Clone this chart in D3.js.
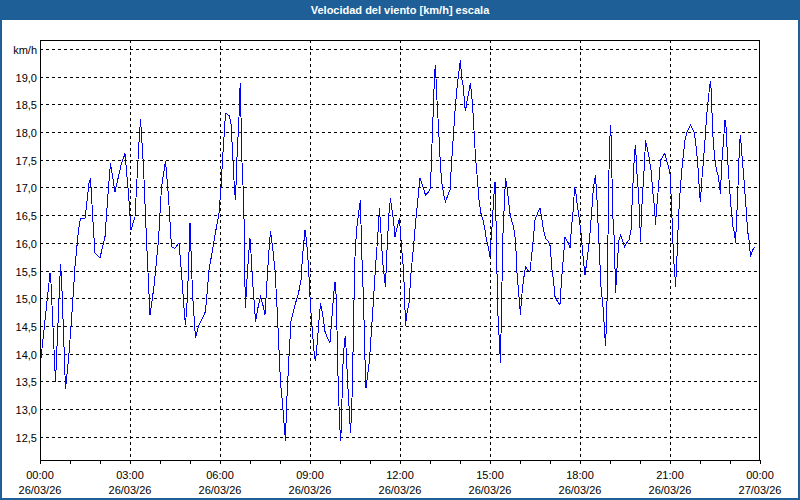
<!DOCTYPE html>
<html>
<head>
<meta charset="utf-8">
<script src="https://cdn.jsdelivr.net/npm/d3@7"></script>
<style>
html,body{margin:0;padding:0;background:#fff;}
svg{display:block;}
text{font-family:"Liberation Sans",Arial,sans-serif;}
</style>
</head>
<body>
<svg id="chart" width="800" height="500"></svg>
<script>
const title = "Velocidad del viento [km/h] escala";
const unitLabel = "km/h";
// minutes since 26/03/26 00:00
const minutes = [0,2,20,22,31,41,43,51,57,63,70,77,81,90,98,101,107,110,120,130,137,141,150,162,170,177,182,190,197,201,207,213,220,228,237,243,251,257,263,270,278,283,289,291,295,300,305,311,317,331,338,345,353,
358,362,365,368,371,379,382,385,389,391,394,398,399,401,403,407,409,410,411,413,417,420,422,425,429,431,435,441,445,450,453,457,461,465,470,474,478,481,485,488,491,493,498,502,510,517,522,525,530,533,537,541,545,549,551,555,558,561,565,570,575,580,583,587,590,593,595,598,601,603,605,609,611,615,618,621,623,625,627,630,633,638,641,643,647,650,652,655,659,663,667,671,675,679,682,685,689,691,693,695,698,701,703,707,710,
713,719,723,727,729,731,734,738,742,747,751,757,760,765,771,777,781,783,787,789,791,793,797,800,803,807,811,817,820,823,827,830,834,837,841,843,847,849,851,854,858,861,863,865,868,871,875,878,882,886,890,893,897,900,902,905,907,910,913,915,919,921,923,926,929,931,934,937,940,943,947,951,954,958,961,963,967,971,975,980,983,987,990,995,1000,1003,1007,1011,1017,1021,1023,1027,1030,1035,1040,1043,1047,1050,1053,1057,1060,1063,1067,1069,1072,1075,1079,
1082,1085,1087,1090,1095,1099,1102,1105,1107,1111,1114,1117,1119,1122,1126,1129,1131,1133,1135,1137,1139,1141,1143,1145,1149,1151,1153,1155,1158,1161,1165,1169,1173,1178,1182,1185,1187,1189,1191,1194,1197,1199,1201,1203,1206,1209,1211,1214,1218,1222,1226,1229,1231,1233,1237,1241,1245,1247,1250,1253,1257,1260,1262,1265,1267,1270,1271,1274,1277,1280,1283,1287,1290,1293,1297,1301,1305,1309,1313,1317,1319,1321,1323,1327,1330,1333,1337,1339,1341,1343,1345,1349,1353,1357,1359,1361,1363,1367,1370,1372,1375,1379,1382,1386,1389,1391,1394,1397,1399,1401,1403,1407,1410,1413,1415,1418,1421,1423,1427,1431];
const speed = [13.95,13.92,15.45,15.27,13.49,15.61,15.39,13.36,13.89,14.61,15.57,16.23,16.44,16.44,17.07,17.16,16.23,15.82,15.73,16.11,17.01,17.43,16.92,17.40,17.61,16.89,16.23,16.47,17.67,18.23,17.37,16.05,14.70,15.21,16.05,17.01,17.47,16.83,15.93,15.90,16.00,15.45,14.70,14.52,15.03,16.36,15.09,14.28,14.49,14.76,15.51,15.87,16.29,
16.53,17.01,17.49,17.91,18.34,18.29,18.15,17.67,16.95,16.77,17.55,18.26,18.68,18.89,17.67,16.83,16.05,15.21,14.82,15.21,15.75,16.08,15.81,15.33,14.85,14.58,14.79,15.03,14.91,14.70,15.15,15.75,16.21,15.93,15.51,14.85,14.07,13.47,13.11,12.75,12.42,13.05,13.95,14.58,14.88,15.09,15.33,15.75,16.23,16.05,15.57,14.85,14.37,13.95,13.86,14.25,14.61,14.91,14.73,14.40,14.28,14.20,14.55,15.03,15.30,14.97,13.89,13.05,12.42,12.69,13.65,14.25,14.31,13.53,13.05,12.57,12.93,13.47,14.55,15.75,16.23,16.59,16.77,15.93,14.97,13.89,13.38,13.59,13.89,14.43,14.97,15.57,16.05,16.62,16.17,15.69,15.36,15.21,15.69,16.05,16.53,16.81,16.65,16.41,16.11,
16.23,16.44,15.93,15.51,15.09,14.50,14.73,14.91,15.45,15.93,16.35,16.89,17.17,17.04,16.86,16.92,16.98,17.55,18.50,19.04,19.21,18.74,18.09,17.55,17.13,16.89,16.74,16.89,16.95,17.43,17.97,18.38,18.80,19.04,19.30,18.98,18.80,18.50,18.38,18.56,18.74,18.89,18.68,18.50,18.03,17.55,17.13,16.77,16.53,16.41,16.23,16.05,15.90,15.75,16.05,16.41,16.77,17.10,16.05,14.85,14.16,13.83,14.85,16.17,16.77,17.16,17.01,16.77,16.53,16.41,16.29,16.05,15.45,15.03,14.70,15.00,15.33,15.57,15.51,15.48,15.75,16.11,16.41,16.53,16.63,16.47,16.23,16.08,16.02,15.93,15.57,15.33,15.03,14.94,14.88,15.33,15.75,16.11,16.05,15.99,15.90,16.29,16.65,17.01,16.89,16.65,16.41,
16.17,15.87,15.66,15.42,15.75,16.05,16.41,16.77,17.01,17.22,16.77,16.17,15.81,15.21,14.85,14.43,14.13,14.55,15.33,16.89,17.73,18.12,17.79,16.59,15.99,15.09,15.39,15.69,16.05,16.14,16.05,15.93,15.99,16.05,16.23,16.89,17.25,17.61,17.77,17.25,16.89,16.53,16.02,16.53,17.01,17.43,17.85,17.73,17.55,17.31,16.89,16.65,16.32,16.59,17.01,17.49,17.55,17.58,17.61,17.49,17.37,17.25,16.89,16.23,15.75,15.39,15.20,15.75,16.47,16.89,17.25,17.61,17.85,17.97,18.06,18.12,18.06,17.97,17.67,17.25,16.89,16.74,17.07,17.49,17.85,18.26,18.62,18.80,18.91,18.68,18.03,17.55,17.31,17.19,17.01,16.89,17.37,17.85,18.21,18.09,17.55,17.01,16.65,16.29,16.17,15.99,16.59,17.25,17.79,17.94,17.67,17.25,16.89,16.53,16.23,16.05,15.75,15.81,15.90,15.93];
const yTicks = [12.5,13.0,13.5,14.0,14.5,15.0,15.5,16.0,16.5,17.0,17.5,18.0,18.5,19.0,19.5];
const hourTicks = [0,60,120,180,240,300,360,420,480,540,600,660,720,780,840,900,960,1020,1080,1140,1200,1260,1320,1380,1440];
const labelTicks = [0,180,360,540,720,900,1080,1260,1440];
const timeLabels = ["00:00","03:00","06:00","09:00","12:00","15:00","18:00","21:00","00:00"];
const dateLabels = ["26/03/26","26/03/26","26/03/26","26/03/26","26/03/26","26/03/26","26/03/26","26/03/26","27/03/26"];

const W = 800, H = 500;
const L = 40, R = 760, T = 40, B = 460;
const svg = d3.select("#chart");
const blue = "#1d5f96";

// frame
svg.append("rect").attr("x",0).attr("y",0).attr("width",W).attr("height",H).attr("fill",blue);
svg.append("rect").attr("x",2).attr("y",20).attr("width",W-4).attr("height",H-22).attr("fill","#ffffff");
svg.append("text").attr("x",W/2).attr("y",14).attr("text-anchor","middle")
  .attr("fill","#ffffff").attr("font-weight","bold").attr("font-size","11px").text(title);

const x = d3.scaleLinear().domain([0,1440]).range([L,R]);
const y = d3.scaleLinear().domain([12.08,19.66]).range([B,T]);

const g = svg.append("g");
// horizontal grid
g.selectAll("line.hg").data(yTicks).join("line")
  .attr("x1",L).attr("x2",R)
  .attr("y1",d=>Math.round(y(d))+0.5).attr("y2",d=>Math.round(y(d))+0.5)
  .attr("stroke","#000").attr("stroke-dasharray","3,3").attr("stroke-width",1)
  .attr("shape-rendering","crispEdges");
// vertical grid
g.selectAll("line.vg").data(labelTicks.filter(d=>d>0&&d<1440)).join("line")
  .attr("y1",T).attr("y2",B)
  .attr("x1",d=>Math.round(x(d))+0.5).attr("x2",d=>Math.round(x(d))+0.5)
  .attr("stroke","#000").attr("stroke-dasharray","3,3").attr("stroke-width",1)
  .attr("shape-rendering","crispEdges");

// line
const pts = minutes.map((m,i)=>[m,speed[i]]);
g.append("path").datum(pts)
  .attr("fill","none").attr("stroke","#0000ff").attr("stroke-width",1)
  .attr("shape-rendering","crispEdges")
  .attr("d",d3.line().x(d=>x(d[0])).y(d=>y(d[1])));

// frame rect
g.append("rect").attr("x",L+0.5).attr("y",T+0.5).attr("width",R-L-1).attr("height",B-T)
  .attr("fill","none").attr("stroke","#000").attr("stroke-width",1)
  .attr("shape-rendering","crispEdges");

// hour ticks
g.selectAll("line.tk").data(hourTicks).join("line")
  .attr("x1",d=>Math.round(x(d))+0.5).attr("x2",d=>Math.round(x(d))+0.5)
  .attr("y1",B).attr("y2",B+4).attr("stroke","#000").attr("shape-rendering","crispEdges");

// y labels
g.selectAll("text.yl").data(yTicks).join("text")
  .attr("x",37).attr("y",d=>Math.round(y(d))+4.5)
  .attr("text-anchor","end").attr("font-size","11px").attr("fill","#000")
  .text(d=> d===19.5 ? unitLabel : d.toFixed(1).replace(".",","));

// x labels
labelTicks.forEach((t,i)=>{
  g.append("text").attr("x",x(t)).attr("y",479).attr("text-anchor","middle")
    .attr("font-size","11px").attr("fill","#000").text(timeLabels[i]);
  g.append("text").attr("x",x(t)).attr("y",494).attr("text-anchor","middle")
    .attr("font-size","11px").attr("fill","#000").text(dateLabels[i]);
});
</script>
</body>
</html>
